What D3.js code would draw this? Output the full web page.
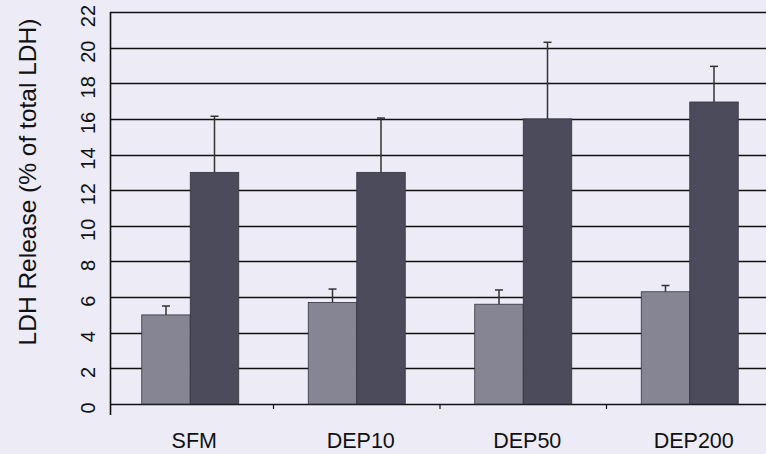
<!DOCTYPE html>
<html>
<head>
<meta charset="utf-8">
<script src="https://cdn.jsdelivr.net/npm/d3@7"></script>
<style>
  html, body { margin: 0; padding: 0; background: #ECEBF6; }
  svg { display: block; }
  text { font-family: "Liberation Sans", Arial, sans-serif; fill: #111; }
</style>
</head>
<body>
<svg id="chart" width="766" height="454"></svg>
<script>
const categories = ["SFM", "DEP10", "DEP50", "DEP200"];
const seriesNames = ["A", "B"];
const valuesA = [5.0, 5.7, 5.6, 6.3];
const errorsA = [0.5, 0.75, 0.8, 0.35];
const valuesB = [13.0, 13.0, 16.0, 16.95];
const errorsB = [3.15, 3.05, 4.3, 2.0];
const yTicks = [0, 2, 4, 6, 8, 10, 12, 14, 16, 18, 20, 22];
const yTitle = "LDH Release (% of total LDH)";

const svg = d3.select("#chart");
const W = 766, H = 454;

const y = d3.scaleLinear().domain([0, 22]).range([404, 12]);
const x = d3.scaleBand().domain(categories).range([107, 773]).padding(0);
const groupW = 97;
const xs = d3.scaleBand().domain(seriesNames).range([0, groupW]).padding(0);
const offset = (x.step() - groupW) / 2;
const colors = { A: "#858594", B: "#4B4B5B" };

// gridlines
svg.append("g").selectAll("line").data(yTicks).join("line")
  .attr("x1", 110).attr("x2", W)
  .attr("y1", d => Math.round(y(d)) + 0.5).attr("y2", d => Math.round(y(d)) + 0.5)
  .attr("stroke", "#111").attr("stroke-width", 1.4);

// bars
const data = [];
categories.forEach((c, i) => {
  data.push({ c, s: "A", v: valuesA[i], e: errorsA[i] });
  data.push({ c, s: "B", v: valuesB[i], e: errorsB[i] });
});

svg.append("g").selectAll("rect").data(data).join("rect")
  .attr("x", d => x(d.c) + offset + xs(d.s))
  .attr("y", d => y(d.v))
  .attr("width", xs.bandwidth())
  .attr("height", d => y(0) - y(d.v))
  .attr("fill", d => colors[d.s])
  .attr("stroke", "#33333d")
  .attr("stroke-width", 0.8);

// error bars
const eb = svg.append("g").attr("stroke", "#333").attr("stroke-width", 1.5);
data.forEach(d => {
  const cx = x(d.c) + offset + xs(d.s) + xs.bandwidth() / 2;
  eb.append("line").attr("x1", cx).attr("x2", cx).attr("y1", y(d.v)).attr("y2", y(d.v + d.e));
  eb.append("line").attr("x1", cx - 4).attr("x2", cx + 4).attr("y1", y(d.v + d.e)).attr("y2", y(d.v + d.e));
});

// y axis line
svg.append("line").attr("x1", 110.5).attr("x2", 110.5).attr("y1", 12).attr("y2", 415)
  .attr("stroke", "#111").attr("stroke-width", 1.6);

// x boundary ticks
svg.append("g").selectAll("line").data(categories.slice(1)).join("line")
  .attr("x1", d => x(d)).attr("x2", d => x(d))
  .attr("y1", 404).attr("y2", 409)
  .attr("stroke", "#111").attr("stroke-width", 1.2);

// y tick labels (rotated)
svg.append("g").selectAll("text").data(yTicks).join("text")
  .attr("transform", d => `translate(95, ${y(d) + 4}) rotate(-90)`)
  .attr("text-anchor", "middle")
  .attr("font-size", 20)
  .text(d => d);

// x labels
svg.append("g").selectAll("text").data(categories).join("text")
  .attr("x", d => x(d) + x.bandwidth() / 2 + 4)
  .attr("y", 448)
  .attr("text-anchor", "middle")
  .attr("font-size", 21.5)
  .text(d => d);

// y title
svg.append("text")
  .attr("transform", "translate(36, 182) rotate(-90)")
  .attr("text-anchor", "middle")
  .attr("font-size", 24.5)
  .text(yTitle);
</script>
</body>
</html>
